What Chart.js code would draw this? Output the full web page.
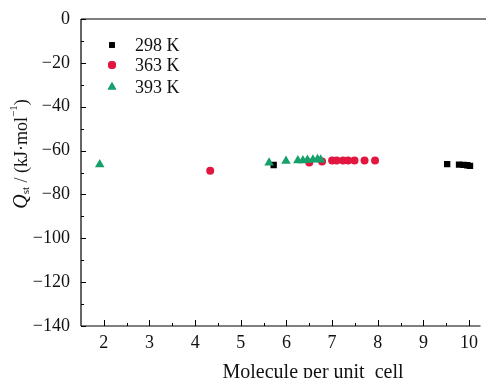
<!DOCTYPE html>
<html>
<head>
<meta charset="utf-8">
<script src="https://cdn.jsdelivr.net/npm/chart.js@4/dist/chart.umd.min.js"></script>
<style>
  html, body { margin: 0; padding: 0; background: #fff; }
  #wrap { width: 486px; height: 378px; position: relative; }
</style>
</head>
<body>
<div id="wrap"><canvas id="qstChart"></canvas></div>
<script>
// Qst vs loading, three temperatures
const seriesLabels = ['298 K', '363 K', '393 K'];
const seriesColors = ['#000000', '#e2163f', '#16a06a'];
const seriesStyles = ['rect', 'circle', 'triangle'];

const x298 = [5.72, 9.52, 9.78, 9.88, 9.96, 10.02];
const y298 = [-66.6, -66.2, -66.4, -66.5, -66.7, -67.0];

const x363 = [4.33, 6.50, 6.78, 7.00, 7.10, 7.24, 7.35, 7.49, 7.71, 7.94];
const y363 = [-69.2, -65.4, -65.0, -64.5, -64.5, -64.5, -64.5, -64.5, -64.5, -64.5];

const x393 = [1.91, 5.62, 5.99, 6.25, 6.36, 6.46, 6.58, 6.68, 6.75];
const y393 = [-66.3, -65.6, -64.8, -64.5, -64.5, -64.3, -64.2, -64.0, -64.2];

const xTicks = [2, 3, 4, 5, 6, 7, 8, 9, 10];
const yTicks = [0, -20, -40, -60, -80, -100, -120, -140];

const SERIF = '"Liberation Serif", "Times New Roman", serif';

function pts(xs, ys) { return xs.map((x, i) => ({ x, y: ys[i] })); }

// frame, inward ticks, axis titles, legend
const decorPlugin = {
  id: 'decor',
  afterDraw(chart) {
    const { ctx, chartArea: a, scales } = chart;
    const xs = scales.x, ys = scales.y;
    ctx.save();
    ctx.strokeStyle = '#000';
    ctx.lineWidth = 1.2;
    ctx.beginPath();
    ctx.moveTo(a.left, a.top); ctx.lineTo(486, a.top);
    ctx.moveTo(a.left, a.top); ctx.lineTo(a.left, a.bottom);
    ctx.moveTo(a.left, a.bottom); ctx.lineTo(a.right, a.bottom);
    ctx.stroke();

    ctx.lineWidth = 1;
    ctx.beginPath();
    for (let v = 0; v >= -140; v -= 10) {
      const py = Math.round(ys.getPixelForValue(v)) + 0.5;
      const len = v % 20 === 0 ? 5 : 3;
      ctx.moveTo(a.left, py); ctx.lineTo(a.left + len, py);
    }
    for (let v = 2; v <= 10; v += 0.5) {
      const px = Math.round(xs.getPixelForValue(v)) + 0.5;
      const len = Number.isInteger(v) ? 6 : 3;
      ctx.moveTo(px, a.bottom); ctx.lineTo(px, a.bottom - len);
    }
    ctx.stroke();

    // y title
    ctx.fillStyle = '#111';
    ctx.translate(22, 154);
    ctx.rotate(-Math.PI / 2);
    const parts = [
      { t: 'Q', f: 'italic 20px ' + SERIF, dy: 0 },
      { t: 'st', f: '11px ' + SERIF, dy: 4 },
      { t: ' / (kJ\u00b7mol', f: '18px ' + SERIF, dy: 0 },
      { t: '\u22121', f: '11px ' + SERIF, dy: -8 },
      { t: ')', f: '18px ' + SERIF, dy: 0 }
    ];
    let total = 0;
    parts.forEach(p => { ctx.font = p.f; p.w = ctx.measureText(p.t).width; total += p.w; });
    let cx = -total / 2;
    ctx.textBaseline = 'middle';
    parts.forEach(p => { ctx.font = p.f; ctx.fillText(p.t, cx, p.dy); cx += p.w; });
    ctx.restore();

    // x title
    ctx.save();
    ctx.fillStyle = '#111';
    ctx.font = '20px ' + SERIF;
    ctx.textAlign = 'center';
    ctx.textBaseline = 'alphabetic';
    ctx.fillText('Molecule per unit  cell', 313, 378);
    ctx.restore();

    // legend
    ctx.save();
    const rows = [45, 65, 87];
    seriesLabels.forEach((lab, i) => {
      const y = rows[i];
      ctx.fillStyle = seriesColors[i];
      Chart.helpers.drawPoint(ctx, { pointStyle: seriesStyles[i], radius: i === 2 ? 5 : 4, borderWidth: 0 }, 112, y);
      ctx.fill();
      ctx.fillStyle = '#111';
      ctx.font = '18px ' + SERIF;
      ctx.textBaseline = 'middle';
      ctx.fillText(lab, 135, y + 1);
    });
    ctx.restore();
  }
};

const xsList = [x298, x363, x393];
const ysList = [y298, y363, y393];
const datasets = seriesLabels.map((lab, i) => ({
  label: lab,
  data: pts(xsList[i], ysList[i]),
  pointStyle: seriesStyles[i],
  pointRadius: i === 2 ? 5.5 : (i === 0 ? 4.5 : 4),
  pointHoverRadius: i === 2 ? 5.5 : 4,
  pointBackgroundColor: seriesColors[i],
  pointBorderColor: seriesColors[i],
  pointBorderWidth: 0,
  showLine: false,
  order: 2 - i
}));

new Chart(document.getElementById('qstChart'), {
  type: 'scatter',
  data: { datasets },
  options: {
    responsive: true,
    maintainAspectRatio: false,
    animation: false,
    events: [],
    layout: { padding: { top: 19, right: 1, left: 0, bottom: 0 } },
    plugins: { legend: { display: false }, tooltip: { enabled: false } },
    scales: {
      x: {
        type: 'linear',
        min: 1.5, max: 10.25,
        grid: { display: false },
        border: { display: false },
        afterBuildTicks: s => { s.ticks = xTicks.map(v => ({ value: v })); },
        afterFit: s => { s.height = 52; },
        ticks: { padding: -2, color: '#111', font: { family: SERIF, size: 18 } }
      },
      y: {
        type: 'linear',
        min: -140, max: 0,
        grid: { display: false },
        border: { display: false },
        afterBuildTicks: s => { s.ticks = yTicks.map(v => ({ value: v })); },
        afterFit: s => { s.width = 81; },
        ticks: {
          padding: 3, color: '#111', font: { family: SERIF, size: 18 },
          callback: v => String(v).replace('-', '\u2212')
        }
      }
    }
  },
  plugins: [decorPlugin]
});
</script>
</body>
</html>
